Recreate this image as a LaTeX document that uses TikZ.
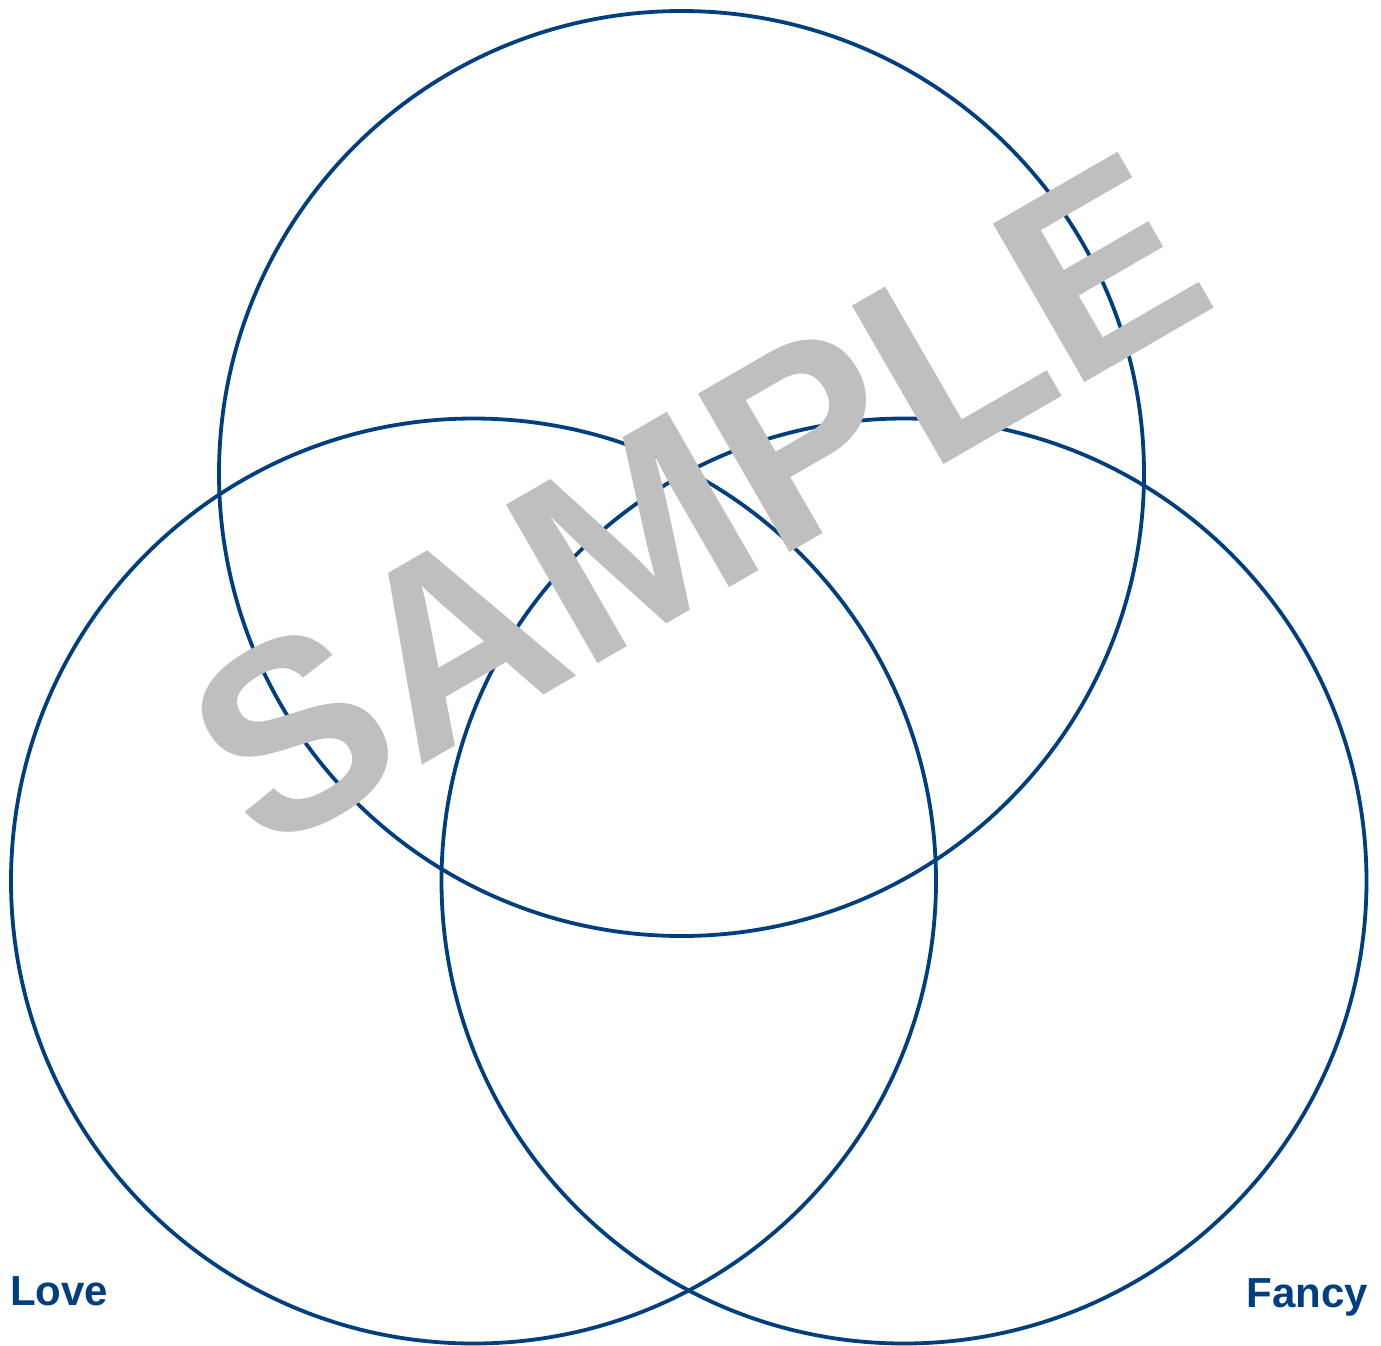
\documentclass[tikz,border=0pt]{standalone}
\usepackage{fontspec}
\setmainfont{Liberation Sans}
\definecolor{vennblue}{RGB}{0,63,127}
\definecolor{markgray}{RGB}{191,191,191}
\begin{document}
\begin{tikzpicture}[x=1pt,y=-1pt,
  ring/.style={draw=vennblue,line width=3.8pt},
  setlabel/.style={text=vennblue,font=\fontsize{42}{42}\selectfont\bfseries,inner sep=0pt},
  watermark/.style={text=markgray,font=\fontsize{266}{266}\selectfont\bfseries,inner sep=0pt,rotate=30}]
\useasboundingbox (0,0) rectangle (1381,1345);
\coordinate (ctop) at (681.5,473.5);
\coordinate (cleft) at (473.5,881);
\coordinate (cright) at (904,881);
\draw[ring] (ctop) circle[radius=462.5];
\draw[ring] (cleft) circle[radius=462.5];
\draw[ring] (cright) circle[radius=462.5];
\node[setlabel,anchor=base west] (love) at (10,1305) {Love};
\node[setlabel,anchor=base east] (fancy) at (1368,1307) {Fancy};
\node[watermark] (sample) at (697,501) {SAMPLE};
\end{tikzpicture}
\end{document}
